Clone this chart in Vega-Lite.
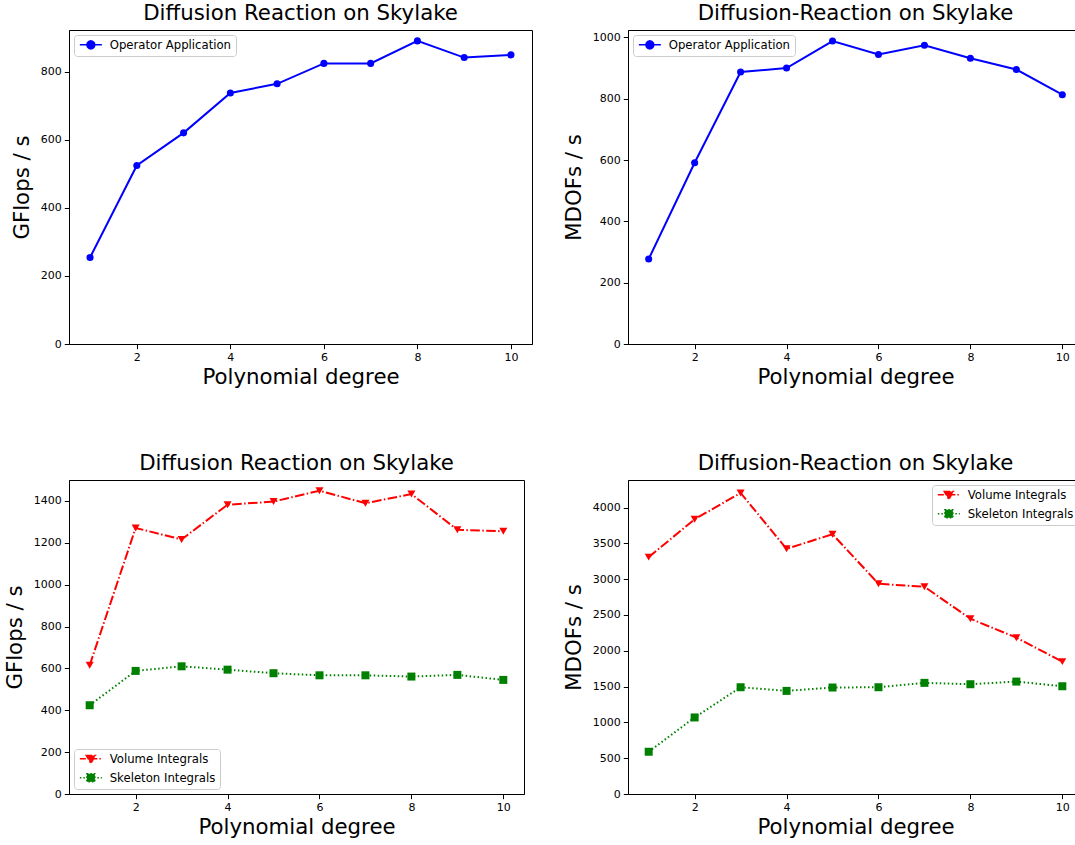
{
  "$schema": "https://vega.github.io/schema/vega-lite/v6.json",
  "padding": {"top": 2, "left": 3, "right": 0, "bottom": 0},
  "background": "white",
  "config": {
    "font": "DejaVu Sans",
    "view": {"stroke": "black", "strokeWidth": 1},
    "axis": {
      "domainColor": "black", "tickColor": "black", "labelColor": "black", "titleColor": "black",
      "labelFont": "DejaVu Sans", "titleFont": "DejaVu Sans", "labelFontSize": 11, "titleFontSize": 21.3,
      "titleFontWeight": "normal", "grid": false, "tickSize": 4.7, "labelPadding": 3, "titlePadding": 8,
      "domainWidth": 1, "tickWidth": 1
    },
    "axisX": {"titlePadding": 4},
    "title": {"font": "DejaVu Sans", "fontSize": 21.3, "fontWeight": "normal", "color": "black", "offset": 6},
    "legend": {
      "labelFont": "DejaVu Sans", "labelFontSize": 11.7, "labelColor": "black",
      "strokeColor": "#cccccc", "fillColor": "white", "cornerRadius": 3, "padding": 4,
      "offset": 5, "symbolSize": 64, "labelOffset": 20, "rowPadding": 3, "title": null
    }
  },
  "columns": 2,
  "align": "none",
  "spacing": {"row": 63, "column": 29},
  "resolve": {"scale": {"color": "independent"}, "legend": {"color": "independent"}},
  "datasets": {
    "op_gflops": [
      {"degree": 1, "value": 254, "series": "Operator Application"},
      {"degree": 2, "value": 524, "series": "Operator Application"},
      {"degree": 3, "value": 620, "series": "Operator Application"},
      {"degree": 4, "value": 737, "series": "Operator Application"},
      {"degree": 5, "value": 764, "series": "Operator Application"},
      {"degree": 6, "value": 824, "series": "Operator Application"},
      {"degree": 7, "value": 824, "series": "Operator Application"},
      {"degree": 8, "value": 890, "series": "Operator Application"},
      {"degree": 9, "value": 841, "series": "Operator Application"},
      {"degree": 10, "value": 849, "series": "Operator Application"}
    ],
    "op_mdofs": [
      {"degree": 1, "value": 277, "series": "Operator Application"},
      {"degree": 2, "value": 591, "series": "Operator Application"},
      {"degree": 3, "value": 887, "series": "Operator Application"},
      {"degree": 4, "value": 900, "series": "Operator Application"},
      {"degree": 5, "value": 988, "series": "Operator Application"},
      {"degree": 6, "value": 944, "series": "Operator Application"},
      {"degree": 7, "value": 974, "series": "Operator Application"},
      {"degree": 8, "value": 932, "series": "Operator Application"},
      {"degree": 9, "value": 895, "series": "Operator Application"},
      {"degree": 10, "value": 813, "series": "Operator Application"}
    ],
    "int_gflops": [
      {"degree": 1, "value": 615, "series": "Volume Integrals"},
      {"degree": 2, "value": 1271, "series": "Volume Integrals"},
      {"degree": 3, "value": 1216, "series": "Volume Integrals"},
      {"degree": 4, "value": 1382, "series": "Volume Integrals"},
      {"degree": 5, "value": 1397, "series": "Volume Integrals"},
      {"degree": 6, "value": 1449, "series": "Volume Integrals"},
      {"degree": 7, "value": 1389, "series": "Volume Integrals"},
      {"degree": 8, "value": 1433, "series": "Volume Integrals"},
      {"degree": 9, "value": 1262, "series": "Volume Integrals"},
      {"degree": 10, "value": 1255, "series": "Volume Integrals"},
      {"degree": 1, "value": 424, "series": "Skeleton Integrals"},
      {"degree": 2, "value": 588, "series": "Skeleton Integrals"},
      {"degree": 3, "value": 610, "series": "Skeleton Integrals"},
      {"degree": 4, "value": 594, "series": "Skeleton Integrals"},
      {"degree": 5, "value": 577, "series": "Skeleton Integrals"},
      {"degree": 6, "value": 567, "series": "Skeleton Integrals"},
      {"degree": 7, "value": 567, "series": "Skeleton Integrals"},
      {"degree": 8, "value": 561, "series": "Skeleton Integrals"},
      {"degree": 9, "value": 569, "series": "Skeleton Integrals"},
      {"degree": 10, "value": 545, "series": "Skeleton Integrals"}
    ],
    "int_mdofs": [
      {"degree": 1, "value": 3308, "series": "Volume Integrals"},
      {"degree": 2, "value": 3837, "series": "Volume Integrals"},
      {"degree": 3, "value": 4204, "series": "Volume Integrals"},
      {"degree": 4, "value": 3424, "series": "Volume Integrals"},
      {"degree": 5, "value": 3628, "series": "Volume Integrals"},
      {"degree": 6, "value": 2936, "series": "Volume Integrals"},
      {"degree": 7, "value": 2894, "series": "Volume Integrals"},
      {"degree": 8, "value": 2448, "series": "Volume Integrals"},
      {"degree": 9, "value": 2183, "series": "Volume Integrals"},
      {"degree": 10, "value": 1849, "series": "Volume Integrals"},
      {"degree": 1, "value": 590, "series": "Skeleton Integrals"},
      {"degree": 2, "value": 1069, "series": "Skeleton Integrals"},
      {"degree": 3, "value": 1491, "series": "Skeleton Integrals"},
      {"degree": 4, "value": 1440, "series": "Skeleton Integrals"},
      {"degree": 5, "value": 1487, "series": "Skeleton Integrals"},
      {"degree": 6, "value": 1491, "series": "Skeleton Integrals"},
      {"degree": 7, "value": 1552, "series": "Skeleton Integrals"},
      {"degree": 8, "value": 1533, "series": "Skeleton Integrals"},
      {"degree": 9, "value": 1570, "series": "Skeleton Integrals"},
      {"degree": 10, "value": 1505, "series": "Skeleton Integrals"}
    ]
  },
  "concat": [
    {
      "width": 463, "height": 314,
      "title": "Diffusion Reaction on Skylake",
      "data": {"name": "op_gflops"},
      "encoding": {
        "x": {"field": "degree", "type": "quantitative", "scale": {"domain": [0.55, 10.45], "nice": false, "zero": false}, "axis": {"title": "Polynomial degree", "values": [2, 4, 6, 8, 10], "format": "d"}},
        "y": {"field": "value", "type": "quantitative", "scale": {"domain": [0, 922], "nice": false}, "axis": {"title": "GFlops / s", "values": [0, 200, 400, 600, 800], "format": "d"}}
      },
      "layer": [
        {"mark": {"type": "line", "color": "#0000ff", "strokeWidth": 2}, "encoding": {}},
        {"mark": {"type": "point", "filled": true, "color": "#0000ff", "opacity": 1, "size": 50, "shape": "circle"}, "encoding": {}},
        {"mark": {"type": "point", "filled": true, "opacity": 0},
         "encoding": {"color": {"field": "series", "type": "nominal", "scale": {"domain": ["Operator Application"], "range": ["#0000ff"]},
           "legend": {"orient": "top-left", "encode": {"symbols": {"update": {
             "shape": {"value": "M-1,0L4.5,0M2.75,0L2.616,0.5L2.25,0.866L1.75,1L1.25,0.866L0.884,0.5L0.75,0L0.884,-0.5L1.25,-0.866L1.75,-1L2.25,-0.866L2.616,-0.5Z"},
             "fill": {"value": "#0000ff"}, "stroke": {"value": "#0000ff"}, "strokeWidth": {"value": 1.5}, "opacity": {"value": 1}}}}}}}}
      ],
      "resolve": {"scale": {"color": "independent"}}
    },
    {
      "width": 455, "height": 314,
      "title": "Diffusion-Reaction on Skylake",
      "data": {"name": "op_mdofs"},
      "encoding": {
        "x": {"field": "degree", "type": "quantitative", "scale": {"domain": [0.55, 10.45], "nice": false, "zero": false}, "axis": {"title": "Polynomial degree", "values": [2, 4, 6, 8, 10], "format": "d"}},
        "y": {"field": "value", "type": "quantitative", "scale": {"domain": [0, 1024], "nice": false}, "axis": {"title": "MDOFs / s", "values": [0, 200, 400, 600, 800, 1000], "format": "d"}}
      },
      "layer": [
        {"mark": {"type": "line", "color": "#0000ff", "strokeWidth": 2}, "encoding": {}},
        {"mark": {"type": "point", "filled": true, "color": "#0000ff", "opacity": 1, "size": 50, "shape": "circle"}, "encoding": {}},
        {"mark": {"type": "point", "filled": true, "opacity": 0},
         "encoding": {"color": {"field": "series", "type": "nominal", "scale": {"domain": ["Operator Application"], "range": ["#0000ff"]},
           "legend": {"orient": "top-left", "encode": {"symbols": {"update": {
             "shape": {"value": "M-1,0L4.5,0M2.75,0L2.616,0.5L2.25,0.866L1.75,1L1.25,0.866L0.884,0.5L0.75,0L0.884,-0.5L1.25,-0.866L1.75,-1L2.25,-0.866L2.616,-0.5Z"},
             "fill": {"value": "#0000ff"}, "stroke": {"value": "#0000ff"}, "strokeWidth": {"value": 1.5}, "opacity": {"value": 1}}}}}}}}
      ],
      "resolve": {"scale": {"color": "independent"}}
    },
    {
      "width": 455, "height": 314,
      "title": "Diffusion Reaction on Skylake",
      "data": {"name": "int_gflops"},
      "encoding": {
        "x": {"field": "degree", "type": "quantitative", "scale": {"domain": [0.55, 10.45], "nice": false, "zero": false}, "axis": {"title": "Polynomial degree", "values": [2, 4, 6, 8, 10], "format": "d"}},
        "y": {"field": "value", "type": "quantitative", "scale": {"domain": [0, 1500], "nice": false}, "axis": {"title": "GFlops / s", "values": [0, 200, 400, 600, 800, 1000, 1200, 1400], "format": "d"}}
      },
      "layer": [
        {"mark": {"type": "line", "strokeWidth": 2},
         "encoding": {
           "color": {"field": "series", "type": "nominal", "scale": {"domain": ["Volume Integrals", "Skeleton Integrals"], "range": ["#ff0000", "#008000"]}, "legend": null},
           "strokeDash": {"field": "series", "type": "nominal", "scale": {"domain": ["Volume Integrals", "Skeleton Integrals"], "range": [[9.6, 2.4, 1.5, 2.4], [1.5, 2.5]]}, "legend": null}}},
        {"mark": {"type": "point", "filled": true, "opacity": 1, "size": 64},
         "encoding": {
           "color": {"field": "series", "type": "nominal", "scale": {"domain": ["Volume Integrals", "Skeleton Integrals"], "range": ["#ff0000", "#008000"]}, "legend": null},
           "shape": {"field": "series", "type": "nominal", "scale": {"domain": ["Volume Integrals", "Skeleton Integrals"], "range": ["triangle-down", "square"]}, "legend": null}}},
        {"mark": {"type": "point", "filled": true, "opacity": 0},
         "encoding": {"color": {"field": "series", "type": "nominal", "scale": {"domain": ["Volume Integrals", "Skeleton Integrals"], "range": ["#ff0000", "#008000"]},
           "legend": {"orient": "bottom-left", "encode": {"symbols": {"update": {
             "shape": {"signal": "datum.value === 'Volume Integrals' ? 'M-1,0L4.5,0M0.6,-0.85L2.9,-0.85L1.75,1.15Z' : 'M-1,0L4.5,0M0.75,-1L2.75,-1L2.75,1L0.75,1Z'"},
             "fill": {"signal": "datum.value === 'Volume Integrals' ? '#ff0000' : '#008000'"},
             "stroke": {"signal": "datum.value === 'Volume Integrals' ? '#ff0000' : '#008000'"},
             "strokeDash": {"signal": "datum.value === 'Volume Integrals' ? [6,2,1.5,2] : [1.5,2]"},
             "strokeWidth": {"value": 1.5}, "opacity": {"value": 1}}}}}}}}
      ],
      "resolve": {"scale": {"color": "independent"}}
    },
    {
      "width": 455, "height": 314,
      "title": "Diffusion-Reaction on Skylake",
      "data": {"name": "int_mdofs"},
      "encoding": {
        "x": {"field": "degree", "type": "quantitative", "scale": {"domain": [0.55, 10.45], "nice": false, "zero": false}, "axis": {"title": "Polynomial degree", "values": [2, 4, 6, 8, 10], "format": "d"}},
        "y": {"field": "value", "type": "quantitative", "scale": {"domain": [0, 4385], "nice": false}, "axis": {"title": "MDOFs / s", "values": [0, 500, 1000, 1500, 2000, 2500, 3000, 3500, 4000], "format": "d"}}
      },
      "layer": [
        {"mark": {"type": "line", "strokeWidth": 2},
         "encoding": {
           "color": {"field": "series", "type": "nominal", "scale": {"domain": ["Volume Integrals", "Skeleton Integrals"], "range": ["#ff0000", "#008000"]}, "legend": null},
           "strokeDash": {"field": "series", "type": "nominal", "scale": {"domain": ["Volume Integrals", "Skeleton Integrals"], "range": [[9.6, 2.4, 1.5, 2.4], [1.5, 2.5]]}, "legend": null}}},
        {"mark": {"type": "point", "filled": true, "opacity": 1, "size": 64},
         "encoding": {
           "color": {"field": "series", "type": "nominal", "scale": {"domain": ["Volume Integrals", "Skeleton Integrals"], "range": ["#ff0000", "#008000"]}, "legend": null},
           "shape": {"field": "series", "type": "nominal", "scale": {"domain": ["Volume Integrals", "Skeleton Integrals"], "range": ["triangle-down", "square"]}, "legend": null}}},
        {"mark": {"type": "point", "filled": true, "opacity": 0},
         "encoding": {"color": {"field": "series", "type": "nominal", "scale": {"domain": ["Volume Integrals", "Skeleton Integrals"], "range": ["#ff0000", "#008000"]},
           "legend": {"orient": "top-right", "encode": {"symbols": {"update": {
             "shape": {"signal": "datum.value === 'Volume Integrals' ? 'M-1,0L4.5,0M0.6,-0.85L2.9,-0.85L1.75,1.15Z' : 'M-1,0L4.5,0M0.75,-1L2.75,-1L2.75,1L0.75,1Z'"},
             "fill": {"signal": "datum.value === 'Volume Integrals' ? '#ff0000' : '#008000'"},
             "stroke": {"signal": "datum.value === 'Volume Integrals' ? '#ff0000' : '#008000'"},
             "strokeDash": {"signal": "datum.value === 'Volume Integrals' ? [6,2,1.5,2] : [1.5,2]"},
             "strokeWidth": {"value": 1.5}, "opacity": {"value": 1}}}}}}}}
      ],
      "resolve": {"scale": {"color": "independent"}}
    }
  ]
}
